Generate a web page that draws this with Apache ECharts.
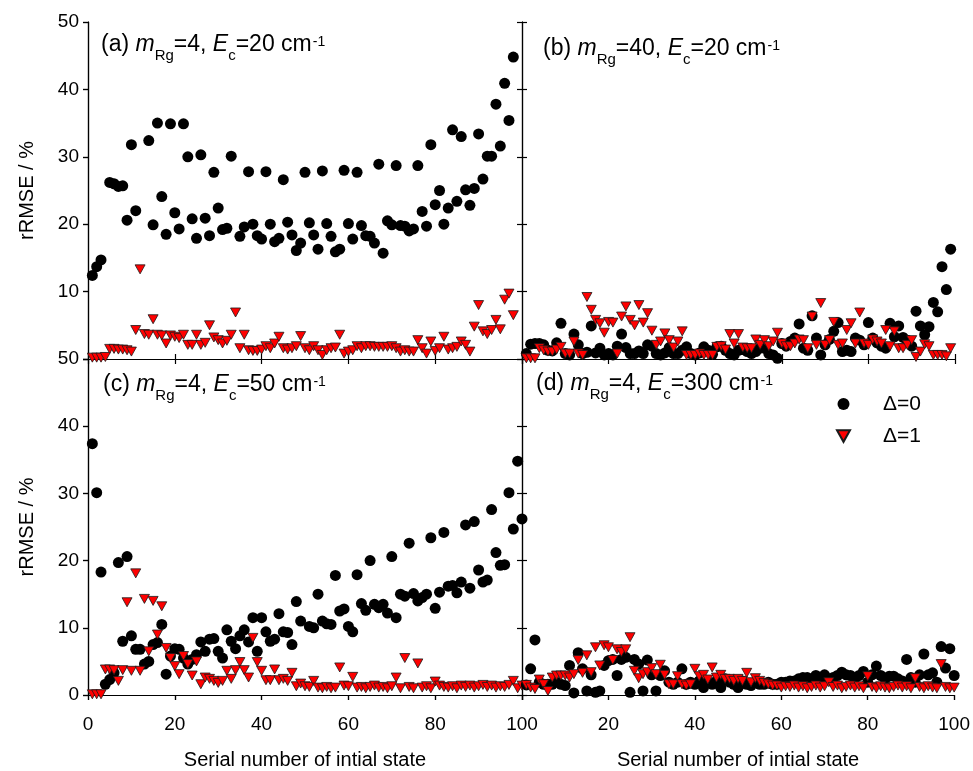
<!DOCTYPE html>
<html>
<head>
<meta charset="utf-8">
<script src="https://cdn.jsdelivr.net/npm/echarts@6/dist/echarts.min.js"></script>
<style>
html, body { margin: 0; background: #fff; }
#chart { width: 973px; height: 771px; }
</style>
</head>
<body>
<div id="chart"></div>
<script>
// rRMSE (%) for serial number 1..100, index 0 = state 1, null = no point read
// (a) mRg=4, Ec=20
const a0 = [12.4,13.7,14.7,null,26.2,26.0,25.6,25.7,20.6,31.8,22.0,null,null,32.4,19.9,35.0,24.1,18.5,34.9,21.7,
  19.3,34.9,30.0,20.8,17.9,30.3,20.9,18.3,27.7,22.4,19.2,19.4,30.1,null,18.2,19.6,27.8,20.0,18.3,17.8,
  27.8,20.0,17.4,17.9,26.6,20.3,18.4,16.1,17.2,27.7,20.2,18.4,16.3,27.9,20.1,18.2,15.9,16.3,28.0,20.1,
  17.8,27.7,19.8,18.3,18.2,17.2,28.9,15.7,20.5,19.9,28.7,19.8,19.7,19.0,19.3,28.7,21.9,19.7,31.8,22.9,
  25.0,20.0,22.4,34.0,23.4,33.0,25.1,22.8,25.3,33.4,26.7,30.1,30.1,37.8,31.6,40.9,35.4,44.8];
const a1 = [0.2,0.2,0.2,0.3,1.5,1.5,1.4,1.4,1.3,1.1,4.3,13.3,3.7,3.6,5.9,3.6,3.5,2.3,3.5,3.3,
  3.1,3.6,2.1,2.1,3.6,2.1,2.4,5.0,3.2,2.8,2.3,2.7,3.6,6.9,1.6,3.6,1.3,1.2,1.2,1.4,
  1.9,1.6,2.3,3.3,1.6,1.4,1.6,1.9,3.4,1.6,1.3,1.9,1.3,0.6,1.3,1.6,1.7,3.6,0.8,1.1,
  1.3,1.9,1.6,1.9,1.9,1.8,1.8,1.8,1.8,1.9,1.6,1.1,1.3,1.1,1.1,2.8,1.6,0.8,2.6,1.2,
  1.6,3.3,1.4,1.6,1.8,2.6,2.1,1.1,4.8,8.0,4.1,3.7,4.3,5.8,4.4,8.8,9.7,6.5];
// (b) mRg=40, Ec=20
const b0 = [0.8,2.2,2.3,2.3,2.1,1.3,1.2,2.4,5.3,0.8,0.6,3.7,2.1,0.8,1.0,4.9,0.9,1.6,0.6,0.8,
  0.6,1.9,3.7,1.7,0.8,0.8,1.2,0.8,2.1,1.9,0.8,0.6,0.9,1.7,0.8,0.8,1.3,1.8,0.8,0.6,
  0.9,1.8,1.3,0.7,1.8,1.9,1.3,0.8,0.6,1.3,1.4,1.1,0.8,1.1,1.6,1.6,0.8,0.6,0.1,2.3,
  1.9,2.6,3.1,5.2,1.6,1.3,6.4,3.1,0.6,2.1,2.9,4.1,5.4,1.1,1.3,1.1,3.1,2.8,2.1,5.4,
  3.1,2.4,1.9,1.6,5.3,3.3,4.9,3.2,2.8,1.9,7.1,4.9,3.6,4.8,8.4,7.0,13.7,10.3,16.3];
const b1 = [0.1,0.1,0.1,1.6,1.3,1.1,1.1,1.4,1.8,0.8,0.8,2.6,0.8,0.6,9.2,7.3,5.8,5.3,3.9,5.5,
  5.4,0.8,6.3,7.8,5.8,5.0,8.0,5.4,6.8,4.2,2.1,2.6,3.8,2.8,1.7,2.6,4.1,0.6,0.6,0.6,
  0.8,0.6,0.6,0.6,1.8,1.9,1.4,3.7,2.3,3.7,1.7,1.6,1.6,2.9,2.1,2.8,1.9,2.6,3.9,2.3,
  1.9,1.9,2.3,2.9,2.8,1.6,6.3,2.1,8.3,2.1,2.8,5.5,2.1,2.3,4.3,5.3,2.3,6.9,2.3,2.1,
  2.9,2.6,2.3,4.3,1.9,4.1,1.6,1.6,2.1,2.8,0.3,1.1,2.2,1.9,0.6,0.6,0.6,0.4,1.6];
// (c) mRg=4, Ec=50
const c0 = [37.4,30.1,18.3,1.6,2.3,3.3,19.7,8.0,20.6,8.8,6.8,6.8,4.6,5.0,7.5,7.8,10.5,3.1,5.8,6.9,
  6.8,5.5,4.6,5.3,6.0,7.9,6.5,8.3,8.4,6.5,5.5,9.7,8.0,6.9,8.8,9.7,7.9,11.5,6.5,11.5,
  9.4,8.0,8.3,12.1,9.4,9.3,7.5,13.9,11.0,null,10.2,10.0,15.0,11.0,10.6,10.5,17.8,12.5,12.8,10.2,
  9.4,17.9,13.6,12.6,20.0,13.5,13.0,13.5,12.2,20.6,11.5,15.0,14.7,22.6,15.1,14.0,14.5,15.0,23.4,12.9,
  15.3,24.2,16.2,16.3,15.2,16.8,25.3,15.9,25.8,18.6,16.8,17.1,27.6,21.2,19.3,19.4,30.1,24.7,34.8,26.2];
const c1 = [0.1,0.1,0.1,3.8,3.8,3.7,2.1,3.7,13.8,3.6,18.1,3.6,14.3,6.5,14.0,9.0,13.2,7.0,5.5,4.3,
  3.1,5.8,4.6,2.9,5.0,1.6,2.6,2.4,2.1,1.8,2.1,3.6,2.4,3.7,4.9,3.7,2.6,8.5,4.9,3.6,
  2.2,2.2,3.8,2.2,2.4,2.1,3.3,1.3,1.7,1.3,1.2,2.1,1.1,1.0,1.2,1.0,1.1,4.1,1.4,1.3,
  2.7,1.1,1.2,1.0,1.2,1.4,1.1,1.2,1.0,1.3,2.6,1.0,5.5,1.2,1.0,4.7,1.1,1.3,1.0,2.0,
  1.4,1.2,1.1,1.3,1.0,1.4,1.2,1.4,1.1,1.3,1.5,1.2,1.4,1.1,1.3,1.2,1.5,2.1,1.0,1.4];
// (d) mRg=4, Ec=300
const d0 = [1.5,3.9,8.2,1.9,1.6,1.6,1.6,1.9,1.6,1.4,4.4,0.3,6.3,3.9,0.6,3.0,0.4,0.6,4.4,5.1,
  5.3,2.9,5.3,5.6,0.4,5.3,4.6,0.6,5.2,3.0,0.6,2.9,3.6,1.9,1.6,1.9,3.9,1.6,1.9,1.6,
  2.1,1.1,1.9,1.6,2.1,1.1,2.4,1.9,1.6,1.1,2.1,1.6,1.4,1.9,1.6,1.6,1.9,1.6,1.6,1.9,
  1.9,2.1,2.1,2.4,2.6,2.6,2.4,2.9,2.6,3.0,2.4,2.6,2.9,3.4,3.0,2.9,2.4,2.9,3.5,1.9,
  3.0,4.3,2.9,2.4,2.8,2.8,2.4,2.1,5.3,2.6,1.9,3.0,6.1,3.0,3.3,1.9,7.2,4.0,6.9,2.9];
const d1 = [1.5,1.1,0.9,2.3,1.6,0.6,2.6,2.9,2.9,2.9,2.6,3.1,5.2,3.3,5.9,3.4,7.1,4.4,7.4,7.1,
  5.2,6.8,6.4,6.8,8.6,3.6,2.5,3.1,3.4,4.0,3.1,4.5,3.0,1.6,1.6,2.8,1.6,1.4,1.6,3.9,
  2.8,3.0,2.3,4.1,2.6,3.0,2.4,2.4,2.1,2.4,2.1,3.3,1.9,2.5,2.1,1.8,1.6,1.4,1.4,1.1,
  1.3,1.2,1.4,1.1,1.3,1.0,1.2,1.4,1.1,1.3,1.9,1.2,1.4,1.0,1.2,1.4,1.1,1.3,1.0,2.8,
  1.2,1.0,1.3,1.1,1.0,1.2,1.4,1.1,1.3,1.0,2.5,1.2,1.0,1.3,1.1,1.0,4.6,1.2,1.0,1.1];

const panelLabels = [
  { tag: '(a)', m: '4', e: '20' },
  { tag: '(b)', m: '40', e: '20' },
  { tag: '(c)', m: '4', e: '50' },
  { tag: '(d)', m: '4', e: '300' }
];
const circleData = [a0, b0, c0, d0];
const triangleData = [a1, b1, c1, d1];

const FONT = 'Liberation Sans, Arial, sans-serif';
const TRI = 'path://M0,0L10,0L5,9Z';

function toPoints(arr) {
  let pts = [];
  arr.forEach(function (v, i) {
    if (v != null) pts.push([i + 1, v]);
  });
  return pts;
}

// grid boxes: (a) (b) on top row, (c) (d) below
const grids = [
  { left: 88, top: 22, width: 434, height: 337 },
  { left: 522, top: 22, width: 433, height: 337 },
  { left: 88, top: 359, width: 434, height: 337 },
  { left: 522, top: 359, width: 433, height: 337 }
];

let xAxes = [], yAxes = [], series = [];

for (let g = 0; g < 4; g++) {
  let bottomRow = g >= 2;
  let leftCol = g % 2 === 0;
  let line = { show: true, lineStyle: { color: '#000', width: 1.2 } };

  // bottom x axis
  xAxes.push({
    type: 'value', gridIndex: g, min: 0, max: 100, interval: 20, position: 'bottom',
    axisLine: line,
    axisTick: { show: true, inside: !bottomRow, length: 5, lineStyle: { color: '#000', width: 1.2 } },
    axisLabel: {
      show: bottomRow, margin: 20, fontSize: 19, color: '#000', fontFamily: FONT,
      formatter: function (v) { return (g === 3 && v === 0) ? '' : String(v); }
    },
    splitLine: { show: false },
    name: bottomRow ? 'Serial number of intial state' : '',
    nameLocation: 'middle', nameGap: 55,
    nameTextStyle: { fontSize: 20, color: '#000', fontFamily: FONT }
  });
  // top x axis (ticks only)
  xAxes.push({
    type: 'value', gridIndex: g, min: 0, max: 100, interval: 20, position: 'top',
    axisLine: line,
    axisTick: { show: true, inside: true, length: 5, lineStyle: { color: '#000', width: 1.2 } },
    axisLabel: { show: false }, splitLine: { show: false }
  });
  // left y axis
  yAxes.push({
    type: 'value', gridIndex: g, min: 0, max: 50, interval: 10, position: 'left',
    axisLine: line,
    axisTick: { show: true, inside: !leftCol, length: 5, lineStyle: { color: '#000', width: 1.2 } },
    axisLabel: {
      show: leftCol, margin: 9, fontSize: 19, color: '#000', fontFamily: FONT,
      formatter: function (v) { return (g === 0 && v === 0) ? '' : String(v); }
    },
    splitLine: { show: false },
    name: leftCol ? 'rRMSE / %' : '',
    nameLocation: 'middle', nameGap: 51,
    nameTextStyle: { fontSize: 20, color: '#000', fontFamily: FONT }
  });
  // right y axis (ticks only)
  yAxes.push({
    type: 'value', gridIndex: g, min: 0, max: 50, interval: 10, position: 'right',
    axisLine: line,
    axisTick: { show: true, inside: true, length: 5, lineStyle: { color: '#000', width: 1.2 } },
    axisLabel: { show: false }, splitLine: { show: false }
  });

  series.push({
    name: 'Δ=0', type: 'scatter', xAxisIndex: 2 * g, yAxisIndex: 2 * g,
    data: toPoints(circleData[g]), symbol: 'circle', symbolSize: 11, clip: false,
    itemStyle: { color: '#000', opacity: 1 }
  });
  series.push({
    name: 'Δ=1', type: 'scatter', xAxisIndex: 2 * g, yAxisIndex: 2 * g,
    data: toPoints(triangleData[g]), symbol: TRI, symbolSize: [10, 9], clip: false,
    itemStyle: { color: '#ff0000', borderColor: '#1a1a1a', borderWidth: 0.8, opacity: 1 }
  });
}

// panel captions with italic symbols, subscripts and superscript
const labelPos = [[101, 33], [543, 37], [103, 373], [536, 372]];
const rich = {
  n: { fontSize: 23, fontFamily: FONT, color: '#000', padding: [4, 0, 4, 0], verticalAlign: 'top' },
  i: { fontSize: 23, fontFamily: FONT, fontStyle: 'italic', color: '#000', padding: [4, 0, 4, 0], verticalAlign: 'top' },
  sub: { fontSize: 15, fontFamily: FONT, color: '#000', padding: [19, 0, 0, 0], verticalAlign: 'top' },
  sup: { fontSize: 14, fontFamily: FONT, color: '#000', padding: [6, 0, 0, 1], verticalAlign: 'top' }
};
let graphics = panelLabels.map(function (p, k) {
  return {
    type: 'text', left: labelPos[k][0], top: labelPos[k][1],
    style: {
      text: '{n|' + p.tag + ' }{i|m}{sub|Rg}{n|=' + p.m + ', }{i|E}{sub|c}{n|=' + p.e + ' cm}{sup|-1}',
      rich: rich
    }
  };
});

let myChart = echarts.init(document.getElementById('chart'));
myChart.setOption({
  backgroundColor: '#fff',
  animation: false,
  grid: grids,
  xAxis: xAxes,
  yAxis: yAxes,
  series: series,
  legend: {
    orient: 'vertical', left: 831, top: 388,
    itemWidth: 13, itemHeight: 12, itemGap: 10,
    textStyle: { fontSize: 21, fontFamily: FONT, color: '#000', lineHeight: 22, padding: [0, 0, 0, 28] },
    data: [
      { name: 'Δ=0', icon: 'circle' },
      { name: 'Δ=1', icon: TRI }
    ]
  },
  graphic: graphics
});
</script>
</body>
</html>
